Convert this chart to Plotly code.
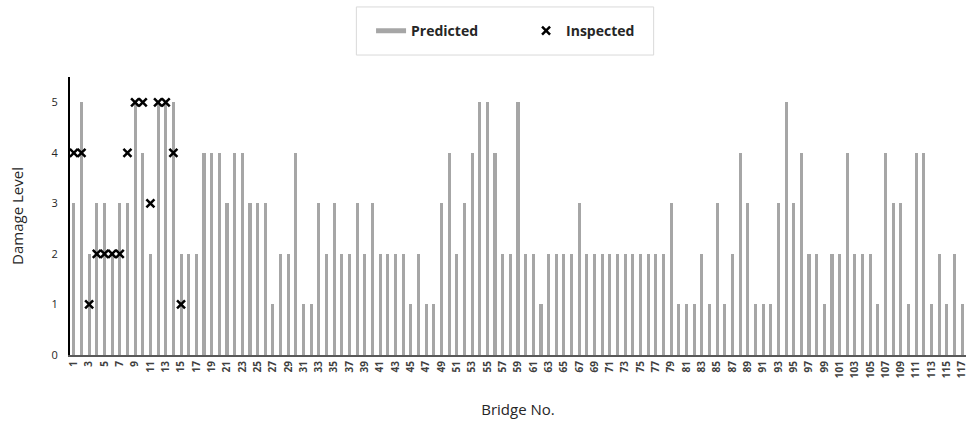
import plotly.graph_objects as go

bridges = [str(i) for i in range(1, 118)]
predicted = [3,5,2,3,3,2,3,3,5,4,2,5,5,5,2,2,2,4,4,4,3,4,
             4,3,3,3,1,2,2,4,1,1,3,2,3,2,2,3,2,3,2,2,2,2,1,
             2,1,1,3,4,2,3,4,5,5,4,2,2,5,2,2,1,2,2,2,2,3,
             2,2,2,2,2,2,2,2,2,2,2,3,1,1,1,2,1,3,1,2,4,3,
             1,1,1,3,5,3,4,2,2,1,2,2,4,2,2,2,1,4,3,3,1,4,4,1,2,1,2,1]
inspected_bridges = [str(i) for i in range(1, 16)]
inspected = [4,4,1,2,2,2,2,4,5,5,3,5,5,4,1]
tick_labels = [str(i) for i in range(1, 118, 2)]
y_ticks = [0, 1, 2, 3, 4, 5]

font = "Open Sans, Liberation Sans, sans-serif"
gray = "#a6a6a6"

fig = go.Figure()
fig.add_trace(go.Bar(x=bridges, y=predicted, width=0.4, marker_color=gray,
                     marker_line_width=0, showlegend=False, name="Predicted"))
fig.add_trace(go.Scatter(x=[None], y=[None], mode="lines", name="Predicted",
                         line=dict(color=gray, width=5)))
fig.add_trace(go.Scatter(x=inspected_bridges, y=inspected, mode="markers", name="Inspected",
                         marker=dict(symbol="x-thin", size=8, color="black",
                                     line=dict(color="black", width=2.5))))

fig.update_layout(
    width=974, height=422,
    margin=dict(l=70, r=6, t=77, b=67),
    plot_bgcolor="white", paper_bgcolor="white",
    font=dict(family=font, color="#262626"),
    bargap=0,
    showlegend=True,
    legend=dict(orientation="h", x=0.336, xanchor="left", y=1.165, yanchor="middle",
                font=dict(size=14, color="#262626", family=font, weight="bold"),
                bgcolor="rgba(0,0,0,0)", borderwidth=0, entrywidth=110,
                itemwidth=30, traceorder="normal"),
    shapes=[dict(type="rect", xref="paper", yref="paper",
                 x0=0.3196, x1=0.6514, y0=1.079, y1=1.252,
                 line=dict(color="#d9d9d9", width=1), fillcolor="rgba(0,0,0,0)")],
)
fig.update_xaxes(type="category", categoryorder="array", categoryarray=bridges,
                 range=[-0.5, 116.5], tickmode="array", tickvals=tick_labels,
                 ticktext=tick_labels, tickangle=-90, showgrid=False,
                 showline=True, linecolor="#595959", linewidth=2, ticks="",
                 tickfont=dict(size=10, color="#404040", weight="bold"),
                 title=dict(text="Bridge No.", font=dict(size=15, color="#262626"), standoff=27))
fig.update_yaxes(range=[0, 5.5], tickmode="array", tickvals=y_ticks, showgrid=False,
                 zeroline=False, showline=True, linecolor="black", linewidth=2, ticks="",
                 ticklabelstandoff=8,
                 tickfont=dict(size=11, color="#262626"),
                 title=dict(text="Damage Level", font=dict(size=15, color="#262626"), standoff=24))

fig.write_html("out.html", config={"displayModeBar": False},
               post_script="document.body.style.margin='0px';")
